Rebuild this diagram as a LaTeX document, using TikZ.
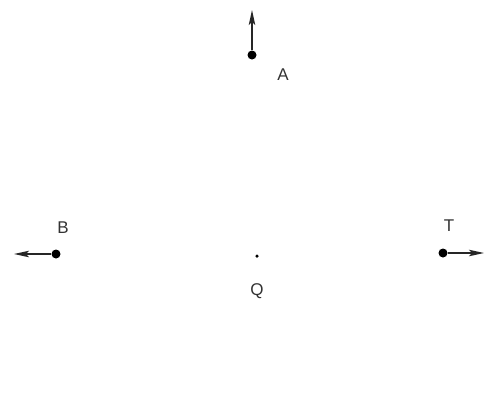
\documentclass[tikz,border=0pt]{standalone}
\usepackage{fontspec}
\setmainfont{Liberation Sans}
\usetikzlibrary{arrows.meta}
\begin{document}
\begin{tikzpicture}[x=1pt,y=-1pt,
  pt/.style={circle,fill=black,inner sep=0pt,minimum size=9pt},
  small/.style={circle,fill=black,inner sep=0pt,minimum size=3.5pt},
  lbl/.style={font=\fontsize{17}{19}\selectfont,text=black!80},
  vec/.style={draw=black!85,line width=1.5pt,-{Stealth[length=15pt,width=6.5pt,inset=3pt]}}]
\useasboundingbox (0,0) rectangle (485,410);
\node[pt] (A) at (252,55) {};
\coordinate (Ae) at (252,10);
\node[pt] (B) at (56,254) {};
\coordinate (Be) at (14,254);
\node[pt] (T) at (443,253) {};
\coordinate (Te) at (484,253);
\node[small] (Q) at (257,256) {};
\node[lbl] (LA) at (283,75) {A};
\node[lbl] (LB) at (63,228) {B};
\node[lbl] (LT) at (449,226) {T};
\node[lbl] (LQ) at (257,291) {Q};
\draw[vec] (A) -- (Ae);
\draw[vec] (B) -- (Be);
\draw[vec] (T) -- (Te);
\end{tikzpicture}
\end{document}
